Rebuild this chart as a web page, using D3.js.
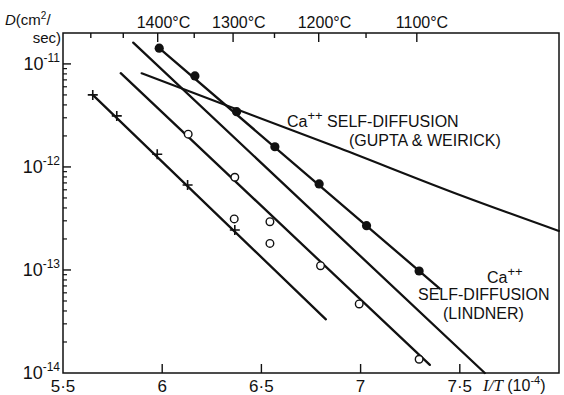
<!DOCTYPE html>
<html>
<head>
<meta charset="utf-8">
<script src="https://cdn.jsdelivr.net/npm/d3@7"></script>
<style>
  html, body { margin: 0; padding: 0; background: #fff; }
  svg { display: block; }
  text { font-family: "Liberation Sans", Arial, sans-serif; fill: #111; }
</style>
</head>
<body>
<svg id="chart" width="564" height="395"></svg>
<script>
// ---- data (1/T in 10^-4 K^-1, D in cm^2/sec) ----
const filledX = [5.985, 6.165, 6.375, 6.568, 6.791, 7.030, 7.295];
const filledD = [1.42e-11, 7.64e-12, 3.44e-12, 1.57e-12, 6.84e-13, 2.69e-13, 9.77e-14];

const openX = [6.131, 6.366, 6.363, 6.543, 6.543, 6.798, 6.993, 7.295];
const openD = [2.08e-12, 7.94e-13, 3.13e-13, 2.94e-13, 1.81e-13, 1.10e-13, 4.68e-14, 1.36e-14];

const crossX = [5.650, 5.771, 5.975, 6.128, 6.366];
const crossD = [5.0e-12, 3.13e-12, 1.33e-12, 6.68e-13, 2.44e-13];

// fitted lines (endpoints)
const lineFilledX = [5.985, 7.399];
const lineFilledD = [1.42e-11, 6.6e-14];
const lineOpenX = [5.791, 7.349];
const lineOpenD = [8.13e-12, 1.2e-14];
const lineLindnerX = [5.854, 7.626];
const lineLindnerD = [1.61e-11, 1.0e-14];
const lineCrossX = [5.650, 6.825];
const lineCrossD = [5.0e-12, 3.32e-14];
const guptaX = [5.896, 6.895, 7.5, 8.0];
const guptaD = [8.12e-12, 1.52e-12, 5.35e-13, 2.39e-13];

// axes
const xTicks = [5.5, 6, 6.5, 7, 7.5];
const xTickLabels = ["5·5", "6", "6·5", "7", "7·5"];
const yDecades = [1e-14, 1e-13, 1e-12, 1e-11];
const yDecadeExp = ["-14", "-13", "-12", "-11"];
const topTemps = [1500, 1450, 1400, 1350, 1300, 1250, 1200, 1150, 1100];
const topLabelTemps = [1400, 1300, 1200, 1100];

// ---- drawing ----
const svg = d3.select("#chart");
const L = 63, R = 559, T = 33, B = 373;
const x = d3.scaleLinear().domain([5.5, 8.0]).range([L, R]);
const y = d3.scaleLog().domain([1e-14, Math.pow(10, -10.7)]).range([B, T]);
const tempToX = t => 1e4 / (t + 273);
const ink = "#111";

// frame
svg.append("rect").attr("x", L).attr("y", T).attr("width", R - L).attr("height", B - T)
  .attr("fill", "none").attr("stroke", ink).attr("stroke-width", 1.5);

// bottom ticks (inward)
svg.selectAll(".xt").data(xTicks.slice(1)).enter().append("line")
  .attr("x1", d => x(d)).attr("x2", d => x(d)).attr("y1", B).attr("y2", B - 9)
  .attr("stroke", ink).attr("stroke-width", 1.4);
svg.selectAll(".xl").data(xTicks).enter().append("text")
  .attr("x", d => x(d)).attr("y", 392).attr("text-anchor", "middle")
  .attr("font-size", 17).text((d, i) => xTickLabels[i]);

// axis title bottom right
const xt = svg.append("text").attr("x", 483).attr("y", 391).attr("font-size", 16);
xt.append("tspan").attr("font-style", "italic").attr("font-family", "'Liberation Serif', serif").attr("font-size", 17).text("I/T");
xt.append("tspan").text(" (10");
xt.append("tspan").attr("font-size", 11).attr("dy", -7).text("-4");
xt.append("tspan").attr("dy", 7).text(")");

// left ticks
const minors = [];
yDecades.forEach(d => { for (let k = 2; k <= 9; k++) { const v = d * k; if (v < 1.0001e-11) minors.push(v); } });
svg.selectAll(".ymn").data(minors).enter().append("line")
  .attr("x1", L).attr("x2", L + 4).attr("y1", d => y(d)).attr("y2", d => y(d))
  .attr("stroke", ink).attr("stroke-width", 1.2);
svg.selectAll(".ymj").data(yDecades.slice(1)).enter().append("line")
  .attr("x1", L).attr("x2", L + 8).attr("y1", d => y(d)).attr("y2", d => y(d))
  .attr("stroke", ink).attr("stroke-width", 1.4);
yDecades.forEach((d, i) => {
  const t = svg.append("text").attr("x", 60).attr("y", y(d) + 6).attr("text-anchor", "end").attr("font-size", 18);
  t.append("tspan").text("10");
  t.append("tspan").attr("font-size", 12).attr("dy", -8).text(yDecadeExp[i]);
});

// y axis title
const yt1 = svg.append("text").attr("x", 5).attr("y", 25).attr("font-size", 15);
yt1.append("tspan").attr("font-style", "italic").text("D");
yt1.append("tspan").text("(cm");
yt1.append("tspan").attr("font-size", 10).attr("dy", -6).text("2");
yt1.append("tspan").attr("dy", 6).text("/");
svg.append("text").attr("x", 61).attr("y", 43).attr("text-anchor", "end").attr("font-size", 15).text("sec)");

// top temperature ticks
svg.selectAll(".tt").data(topTemps).enter().append("line")
  .attr("x1", d => x(tempToX(d))).attr("x2", d => x(tempToX(d)))
  .attr("y1", T).attr("y2", d => T + (topLabelTemps.includes(d) ? 9 : 5))
  .attr("stroke", ink).attr("stroke-width", 1.4);
svg.selectAll(".tl").data(topLabelTemps).enter().append("text")
  .attr("x", d => x(tempToX(d)) - 21).attr("y", 28).attr("font-size", 16)
  .text(d => d + "°C");

// lines
const line = d3.line().x(d => x(d[0])).y(d => y(d[1]));
const zip = (a, b) => a.map((v, i) => [v, b[i]]);
[[lineFilledX, lineFilledD], [lineOpenX, lineOpenD], [lineLindnerX, lineLindnerD], [lineCrossX, lineCrossD]]
  .forEach(([a, b]) => {
    svg.append("path").attr("d", line(zip(a, b))).attr("fill", "none")
      .attr("stroke", ink).attr("stroke-width", 2.3).attr("stroke-linecap", "round");
  });
svg.append("path").attr("d", d3.line().x(d => x(d[0])).y(d => y(d[1])).curve(d3.curveMonotoneX)(zip(guptaX, guptaD)))
  .attr("fill", "none").attr("stroke", ink).attr("stroke-width", 2.1).attr("stroke-linecap", "round");

// markers
svg.selectAll(".fc").data(zip(filledX, filledD)).enter().append("circle")
  .attr("cx", d => x(d[0])).attr("cy", d => y(d[1])).attr("r", 4.6).attr("fill", ink);
svg.selectAll(".oc").data(zip(openX, openD)).enter().append("circle")
  .attr("cx", d => x(d[0])).attr("cy", d => y(d[1])).attr("r", 3.8)
  .attr("fill", "#fff").attr("stroke", ink).attr("stroke-width", 1.4);
svg.selectAll(".cr").data(zip(crossX, crossD)).enter().append("path")
  .attr("d", d => { const cx = x(d[0]), cy = y(d[1]), s = 5; return `M${cx - s},${cy}H${cx + s}M${cx},${cy - s}V${cy + s}`; })
  .attr("stroke", ink).attr("stroke-width", 1.6).attr("fill", "none");

// annotations
const g1 = svg.append("text").attr("x", 287).attr("y", 127).attr("font-size", 16);
g1.append("tspan").text("Ca");
g1.append("tspan").attr("font-size", 13).attr("dy", -7).text("++");
g1.append("tspan").attr("dy", 7).text(" SELF-DIFFUSION");
svg.append("text").attr("x", 349).attr("y", 146).attr("font-size", 16).text("(GUPTA & WEIRICK)");

const l1 = svg.append("text").attr("x", 487).attr("y", 283).attr("font-size", 16);
l1.append("tspan").text("Ca");
l1.append("tspan").attr("font-size", 13).attr("dy", -7).text("++");
svg.append("text").attr("x", 418).attr("y", 300).attr("font-size", 16).text("SELF-DIFFUSION");
svg.append("text").attr("x", 443).attr("y", 319).attr("font-size", 16).text("(LINDNER)");
</script>
</body>
</html>
